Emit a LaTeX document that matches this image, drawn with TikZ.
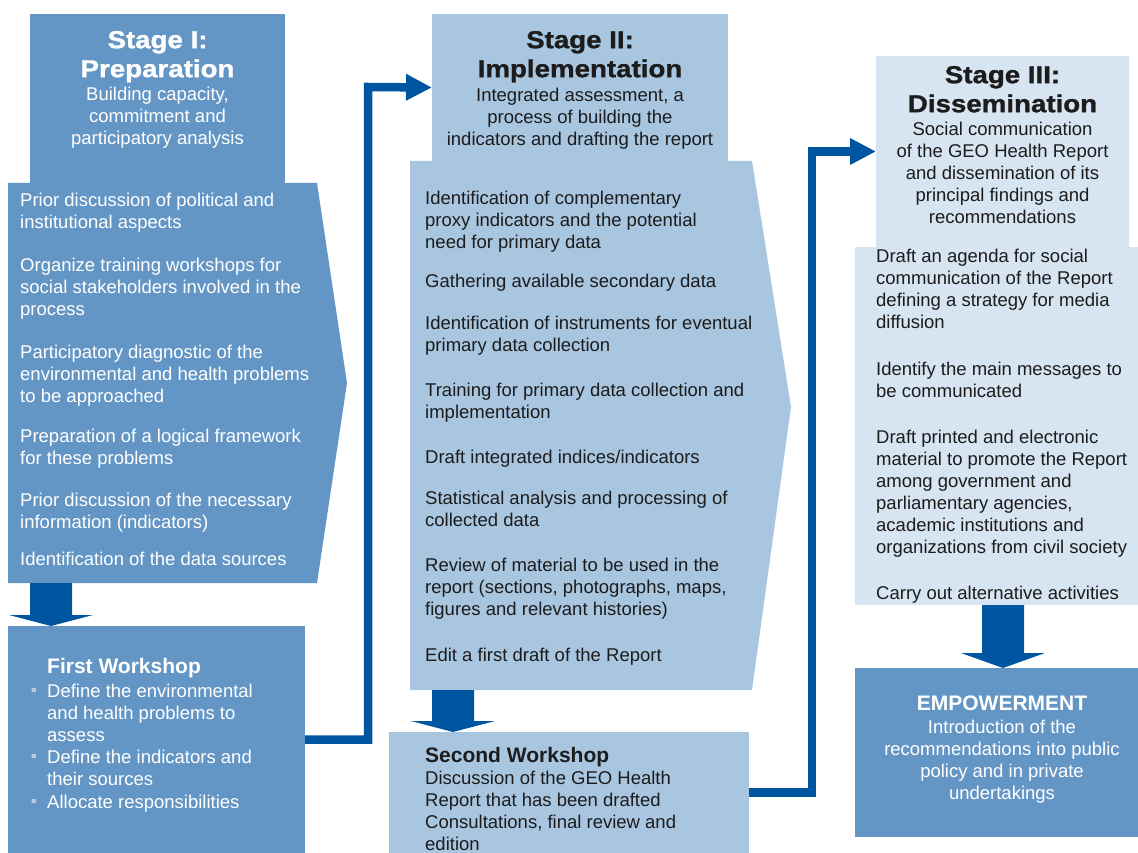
\documentclass[tikz,border=0pt]{standalone}
\usepackage{fontspec}
\setmainfont{Liberation Sans}
\newfontfamily\titlefont{Liberation Sans}[FakeStretch=1.13,FakeBold=1.2]
\newfontfamily\symfont{DejaVu Sans}
\usetikzlibrary{arrows.meta,calc}
\definecolor{sone}{RGB}{100,150,197}
\definecolor{stwo}{RGB}{169,198,224}
\definecolor{sthree}{RGB}{215,228,241}
\definecolor{arr}{RGB}{0,85,160}
\definecolor{ink}{RGB}{28,28,28}
\newcommand\bigdownarrow[4]{% start, tip, head length, half head width
  \fill[arr] ($(#1)+(-21,0)$) -- ($(#1)+(21,0)$) -- ($(#2)+(21,-#3)$) -- ($(#2)+(#4,-#3)$)
    -- (#2) -- ($(#2)+(-#4,-#3)$) -- ($(#2)+(-21,-#3)$) -- cycle;}
\begin{document}
\begin{tikzpicture}[x=1pt,y=-1pt,
  panel/.style={anchor=north west,inner sep=0pt,outer sep=0pt,draw=none},
  txt/.style={anchor=north west,inner sep=0pt,align=left,font=\fontsize{18.5}{22}\selectfont},
  ctxt/.style={anchor=north,inner sep=0pt,align=center,font=\fontsize{18.5}{22}\selectfont},
  ttl/.style={anchor=north,inner sep=0pt,align=center,font=\titlefont\bfseries\fontsize{24.5}{29}\selectfont},
  hd/.style={inner sep=0pt,font=\bfseries\fontsize{21}{25}\selectfont},
  bul/.style={inner sep=0pt,text=white,font=\symfont\fontsize{6}{7}\selectfont},
  conn/.style={draw=arr,line width=8.5pt,-{Triangle[length=26pt,width=25pt]}}]
\useasboundingbox (0,0) rectangle (1138,853);

% ---------- Stage I ----------
\fill[sone] (8,183) -- (317,183) -- (347,383) -- (317,583) -- (8,583) -- cycle;
\node[panel,fill=sone,minimum width=255pt,minimum height=169pt] (s1h) at (30,14) {};
\node[ttl,text=white] (s1t) at (157.5,27.7) {\strut Stage I:\\Preparation};
\node[ctxt,text=white] (s1s) at (157.5,84.6) {\strut Building capacity,\\commitment and\\participatory analysis};
\begin{scope}[every node/.style={txt,text=white}]
\node (s1a) at (20,190.6) {\strut Prior discussion of political and\\institutional aspects};
\node (s1b) at (20,255.6) {\strut Organize training workshops for\\social stakeholders involved in the\\process};
\node (s1c) at (20,342.6) {\strut Participatory diagnostic of the\\environmental and health problems\\to be approached};
\node (s1d) at (20,426.6) {\strut Preparation of a logical framework\\for these problems};
\node (s1e) at (20,490.6) {\strut Prior discussion of the necessary\\information (indicators)};
\node (s1f) at (20,549.6) {\strut Identification of the data sources};
\end{scope}

% First workshop
\node[panel,fill=sone,minimum width=297pt,minimum height=227pt] (fw) at (8,626) {};
\node[hd,text=white,anchor=base west] (fwh) at (47,673) {First Workshop};
\node[txt,text=white] (fw1) at (47,681.6) {\strut Define the environmental\\and health problems to\\assess};
\node[txt,text=white] (fw2) at (47,747.6) {\strut Define the indicators and\\their sources};
\node[txt,text=white,anchor=base west] (fw3) at (47,808) {Allocate responsibilities};
\node[bul] (b1) at (34,691) {⊠};
\node[bul] (b2) at (34,757) {⊠};
\node[bul] (b3) at (34,802) {⊠};

\coordinate (a1s) at (51,583);
\coordinate (a1t) at (51,626);
\bigdownarrow{a1s}{a1t}{11}{42}

% ---------- Stage II ----------
\fill[stwo] (410,161) -- (752,161) -- (791,407) -- (752,690) -- (410,690) -- cycle;
\node[panel,fill=stwo,minimum width=296pt,minimum height=147pt] (s2h) at (432,14) {};
\node[ttl,text=ink] (s2t) at (580,27.7) {\strut Stage II:\\Implementation};
\node[ctxt,text=ink] (s2s) at (580,85.6) {\strut Integrated assessment, a\\process of building the\\indicators and drafting the report};
\begin{scope}[every node/.style={txt,text=ink}]
\node (s2a) at (425,188.6) {\strut Identification of complementary\\proxy indicators and the potential\\need for primary data};
\node (s2b) at (425,271.6) {\strut Gathering available secondary data};
\node (s2c) at (425,313.6) {\strut Identification of instruments for eventual\\primary data collection};
\node (s2d) at (425,380.6) {\strut Training for primary data collection and\\implementation};
\node (s2e) at (425,447.6) {\strut Draft integrated indices/indicators};
\node (s2f) at (425,488.6) {\strut Statistical analysis and processing of\\collected data};
\node (s2g) at (425,555.6) {\strut Review of material to be used in the\\report (sections, photographs, maps,\\figures and relevant histories)};
\node (s2i) at (425,645.6) {\strut Edit a first draft of the Report};
\end{scope}

% Second workshop
\node[panel,fill=stwo,minimum width=360pt,minimum height=121pt] (sw) at (389,732) {};
\node[hd,text=ink,anchor=base west] (swh) at (425,762) {Second Workshop};
\node[txt,text=ink] (sw1) at (425,768.6) {\strut Discussion of the GEO Health\\Report that has been drafted\\Consultations, final review and\\edition};

\coordinate (a2s) at (453,690);
\coordinate (a2t) at (453,732);
\bigdownarrow{a2s}{a2t}{11}{42}

% ---------- Stage III ----------
\node[panel,fill=sthree,minimum width=283pt,minimum height=358pt] (s3b) at (855,247) {};
\node[panel,fill=sthree,minimum width=253pt,minimum height=191pt] (s3h) at (876,56) {};
\node[ttl,text=ink] (s3t) at (1002.5,62.7) {\strut Stage III:\\Dissemination};
\node[ctxt,text=ink] (s3s) at (1002.5,119.6) {\strut Social communication\\of the GEO Health Report\\and dissemination of its\\principal findings and\\recommendations};
\begin{scope}[every node/.style={txt,text=ink}]
\node (s3a) at (876,246.6) {\strut Draft an agenda for social\\communication of the Report\\defining a strategy for media\\diffusion};
\node (s3c) at (876,359.6) {\strut Identify the main messages to\\be communicated};
\node (s3d) at (876,427.6) {\strut Draft printed and electronic\\material to promote the Report\\among government and\\parliamentary agencies,\\academic institutions and\\organizations from civil society};
\node (s3e) at (876,583.6) {\strut Carry out alternative activities};
\end{scope}

% Empowerment
\node[panel,fill=sone,minimum width=283pt,minimum height=169pt] (emp) at (855,668) {};
\node[hd,text=white,anchor=base] (emph) at (1002,710) {EMPOWERMENT};
\node[ctxt,text=white] (emp1) at (1002,717.6) {\strut Introduction of the\\recommendations into public\\policy and in private\\undertakings};

\coordinate (a3s) at (1003,605);
\coordinate (a3t) at (1003,668);
\bigdownarrow{a3s}{a3t}{15}{42}

% ---------- connectors ----------
\coordinate (k1) at (368,87);
\coordinate (k2) at (812,151.5);
\draw[conn] (fw.east) -| (k1) -- (s2h.west);
\draw[conn] (sw.east) -| (k2) -- (s3h.west);
\end{tikzpicture}
\end{document}
